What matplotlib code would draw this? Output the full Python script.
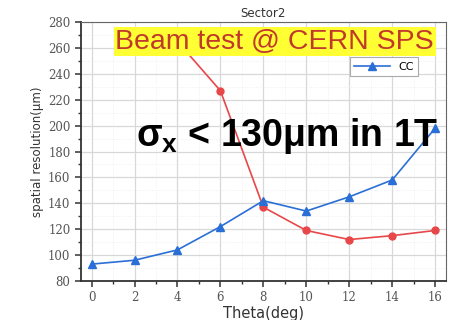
import matplotlib
matplotlib.use('Agg')
import matplotlib.pyplot as plt
from matplotlib.ticker import MultipleLocator

# data
theta = [0, 2, 4, 6, 8, 10, 12, 14, 16]
cc = [93, 96, 104, 122, 142, 134, 145, 158, 198]
theta_red = [4, 6, 8, 10, 12, 14, 16]
red = [265, 227, 137, 119, 112, 115, 119]

plt.rcParams['mathtext.fontset'] = 'custom'
plt.rcParams['mathtext.rm'] = 'Liberation Sans:bold'
plt.rcParams['mathtext.bf'] = 'Liberation Sans:bold'
plt.rcParams['mathtext.it'] = 'Liberation Sans:bold'

fig = plt.figure(figsize=(4.49, 3.2), dpi=100)
ax = fig.add_axes([0.180, 0.122, 0.813, 0.809])

ax.plot(theta_red, red, color='#e8474a', marker='o', markersize=5, linewidth=1.2, zorder=3)
ax.plot(theta, cc, color='#2a6fd6', marker='^', markersize=5.5, linewidth=1.2, label='CC', zorder=4)

ax.set_xlim(-0.5, 16.5)
ax.set_ylim(80, 280)
ax.xaxis.set_major_locator(MultipleLocator(2))
ax.xaxis.set_minor_locator(MultipleLocator(1))
ax.yaxis.set_major_locator(MultipleLocator(20))
ax.yaxis.set_minor_locator(MultipleLocator(10))
ax.grid(which='major', color='#d8d8d8', linewidth=0.9)
ax.grid(which='minor', color='#ececec', linewidth=0.6, linestyle=':')
ax.set_axisbelow(True)

for s in ['left', 'bottom']:
    ax.spines[s].set_linewidth(1.3)
    ax.spines[s].set_color('#333333')
for s in ['top', 'right']:
    ax.spines[s].set_linewidth(0.8)
    ax.spines[s].set_color('#666666')
ax.tick_params(which='major', direction='out', length=4, width=1.1, colors='#333333',
               labelsize=8.5, labelcolor='#555555')
ax.tick_params(which='minor', direction='out', length=2, width=1.0, colors='#333333')
ax.tick_params(top=False, right=False)
for lab in ax.get_xticklabels() + ax.get_yticklabels():
    lab.set_family('DejaVu Serif')

ax.set_xlabel('Theta(deg)', fontsize=10.5, color='#333333', labelpad=1)
ax.set_ylabel('spatial resolution(μm)', fontsize=8.5, color='#333333', labelpad=3)
ax.set_title('Sector2', fontsize=8.5, color='#333333', pad=4)

leg = ax.legend(loc='upper right', bbox_to_anchor=(0.94, 0.885), fontsize=8,
                fancybox=False, framealpha=1, edgecolor='#aaaaaa', handlelength=3.2,
                borderpad=0.4)
leg.get_frame().set_linewidth(0.8)

fig.text(0.612, 0.87, 'Beam test @ CERN SPS', fontsize=20.5, color='#c0392b',
         family='Liberation Sans', ha='center', va='center',
         bbox=dict(boxstyle='square,pad=0.06', facecolor='#ffff33', edgecolor='none'))
fig.text(0.64, 0.575, r'$\sigma_x$ < 130μm in 1T', fontsize=27, fontweight='bold',
         family='Liberation Sans', color='black', ha='center', va='center')

fig.savefig('out.png', dpi=100)
